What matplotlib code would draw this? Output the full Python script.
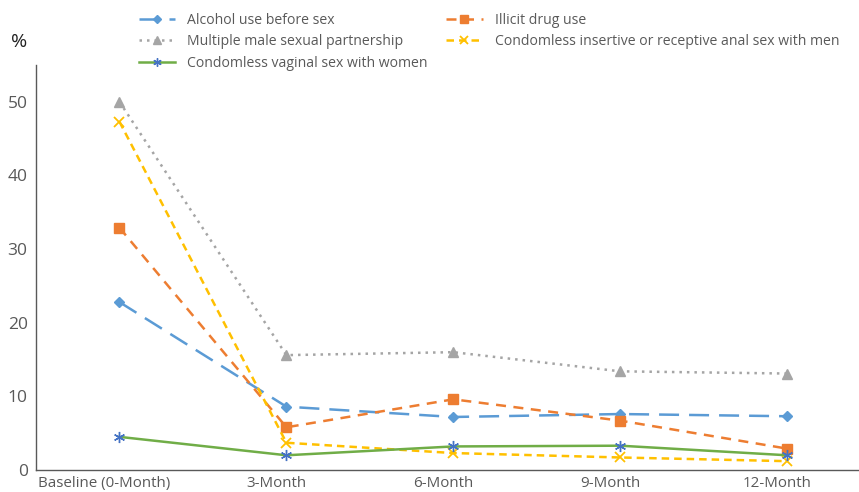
import matplotlib.pyplot as plt
from matplotlib.transforms import ScaledTranslation

plt.rcParams['font.family'] = ['Open Sans', 'DejaVu Sans']

periods = ["Baseline (0-Month)", "3-Month", "6-Month", "9-Month", "12-Month"]
alcohol = [22.8, 8.6, 7.2, 7.6, 7.3]
drug = [32.9, 5.8, 9.6, 6.7, 2.9]
partners = [50.0, 15.6, 16.0, 13.4, 13.1]
anal_sex = [47.3, 3.7, 2.3, 1.7, 1.2]
vaginal_sex = [4.5, 2.0, 3.2, 3.3, 2.0]

txt = "#595959"
fig = plt.figure(figsize=(8.59, 4.92), dpi=100)
ax = fig.add_axes([36 / 859, 22 / 492, 823 / 859, 405 / 492])
x = range(len(periods))

l1, = ax.plot(x, alcohol, color="#5B9BD5", lw=1.8, dashes=(8, 4), marker="D", ms=5)
l2, = ax.plot(x, drug, color="#ED7D31", lw=1.8, dashes=(4, 3), marker="s", ms=7)
l3, = ax.plot(x, partners, color="#A5A5A5", lw=1.8, dashes=(1, 2), marker="^", ms=7)
l4, = ax.plot(x, anal_sex, color="#FFC000", lw=1.8, dashes=(3, 2), marker="x", ms=7, mew=1.3)
l5, = ax.plot(x, vaginal_sex, color="#70AD47", lw=1.8, marker=(6, 2, 0), ms=8,
              mec="#4472C4", mew=1)

# categories are ~167 px apart; the plot runs off the right edge
ax.set_xlim(-0.5, 4.43)
ax.set_ylim(0, 55)
ax.set_yticks(range(0, 51, 10))
ax.set_xticks(list(x))
ax.set_xticklabels(periods)
ax.tick_params(length=0, colors=txt)
ax.tick_params(axis="y", pad=6, labelsize=12.5)
ax.tick_params(axis="x", pad=4, labelsize=10.9)
# labels sit a little left of their points in the original
shift = ScaledTranslation(-10 / 100, 0, fig.dpi_scale_trans)
for i, lab in enumerate(ax.get_xticklabels()):
    off = ScaledTranslation(-15 / 100, 0, fig.dpi_scale_trans) if i == 0 else shift
    lab.set_transform(lab.get_transform() + off)
for s in ["top", "right"]:
    ax.spines[s].set_visible(False)
for s in ["left", "bottom"]:
    ax.spines[s].set_color("#595959")
    ax.spines[s].set_linewidth(1)

fig.text(11 / 859, 1 - 42 / 492, "%", fontsize=14, color="#222222", va="center")

handles = [l1, l3, l5, l2, l4]
labels = ["Alcohol use before sex", "Multiple male sexual partnership",
          "Condomless vaginal sex with women", "Illicit drug use",
          "Condomless insertive or receptive anal sex with men"]
fig.legend(handles, labels, ncol=2, loc="upper left",
           bbox_to_anchor=(132 / 859, 1 - 6 / 492), borderpad=0,
           frameon=False, fontsize=10.1, labelcolor=txt, handlelength=2.6,
           columnspacing=1.3, labelspacing=0.45, handletextpad=0.85,
           markerscale=0.75)

fig.savefig("out.png", dpi=100)
